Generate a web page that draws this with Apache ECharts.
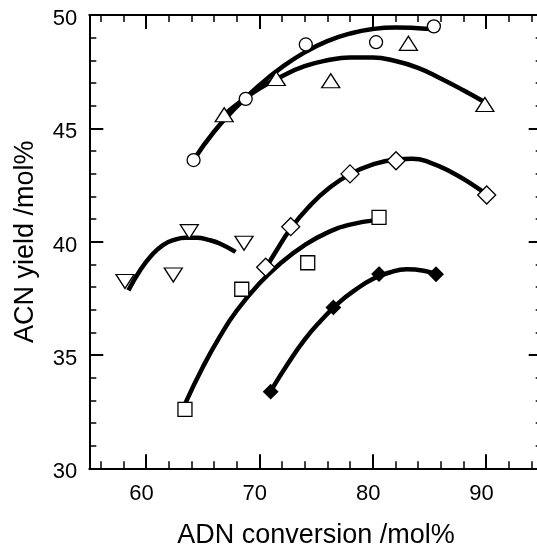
<!DOCTYPE html>
<html><head><meta charset="utf-8">
<script src="https://cdn.jsdelivr.net/npm/echarts@6/dist/echarts.min.js"></script>
<style>html,body{margin:0;padding:0;background:#fff}#c{width:537px;height:545px}</style>
</head><body><div id="c"></div>
<script>
// Tick values
const xMajorTicks = [60, 70, 80, 90];
const xMinorTicks = [56, 58, 62, 64, 66, 68, 72, 74, 76, 78, 82, 84, 86, 88, 92, 94];

// Measured points [ADN conversion, ACN yield]
const circlePts = [[64.2, 43.6], [68.8, 46.3], [74.1, 48.7], [80.3, 48.8], [85.4, 49.5]];
const triUpPts = [[66.9, 45.6], [71.5, 47.2], [76.3, 47.1], [83.15, 48.75], [89.9, 46.05]];
const diamondPts = [[70.56, 38.87], [72.77, 40.66], [78.0, 42.99], [82.06, 43.57], [90.06, 42.06]];
const squarePts = [[63.44, 32.6], [68.45, 37.9], [74.27, 39.07], [80.56, 41.07]];
const filledDiamondPts = [[71.0, 33.38], [76.53, 37.1], [80.56, 38.57], [85.59, 38.56]];
const triDownPts = [[58.15, 38.24], [62.41, 38.53], [63.82, 40.44], [68.65, 39.93]];

// Fitted curves
const circleFit = [[64.2, 43.6], [66, 44.85], [68, 45.95], [70, 46.9], [72, 47.7], [74, 48.35], [76, 48.85], [78, 49.18], [80, 49.38], [82, 49.45], [84, 49.42], [85.3, 49.38]];
const triUpFit = [[66.9, 45.6], [68, 46.05], [70, 46.75], [72, 47.3], [74, 47.74], [76, 48.0], [78, 48.12], [80, 48.12], [82, 47.97], [84, 47.67], [86, 47.2], [88, 46.68], [89.9, 46.15]];
const diamondFit = [[70.6, 38.85], [71.5, 39.6], [72.8, 40.6], [74.5, 41.6], [76, 42.3], [78, 42.98], [80, 43.4], [82, 43.62], [83.5, 43.66], [85, 43.5], [87, 43.05], [89, 42.45], [90, 42.1]];
const squareFit = [[63.5, 32.9], [65, 34.45], [66.5, 35.8], [68, 36.95], [70, 38.15], [72, 39.1], [74, 39.85], [76, 40.4], [78, 40.75], [80.3, 40.95]];
const filledDiamondFit = [[71, 33.4], [72.5, 34.6], [74, 35.68], [75.5, 36.55], [77, 37.3], [78.5, 37.88], [80, 38.35], [81.5, 38.64], [83, 38.78], [84.5, 38.72], [85.6, 38.56]];
const triDownFit = [[58.45, 37.85], [59.5, 38.75], [60.5, 39.4], [61.5, 39.85], [62.5, 40.08], [63.5, 40.17], [64.5, 40.17], [65.5, 40.08], [66.5, 39.92], [67.9, 39.55]];

const FONT = 'Liberation Sans, Arial, sans-serif';
const black = '#000';

function xAxisDef(pos, major, withLabels) {
  const a = {
    type: 'value', min: 55, max: 95, position: pos,
    axisLine: { show: major, onZero: false, lineStyle: { color: black, width: 2 } },
    axisTick: { show: true, inside: true, length: major ? 14 : 7, customValues: major ? xMajorTicks : xMinorTicks,
      lineStyle: { color: black, width: major ? 2 : 1.5 } },
    axisLabel: { show: withLabels, customValues: xMajorTicks, margin: 15, fontSize: 22, color: black, fontFamily: FONT, padding: [0, 9, 0, 0] },
    splitLine: { show: false }
  };
  if (withLabels) {
    a.name = 'ADN conversion /mol%';
    a.nameLocation = 'middle';
    a.nameGap = 54;
    a.nameTextStyle = { fontSize: 27, color: black, fontFamily: FONT };
  }
  return a;
}

function yAxisDef(pos, withLabels) {
  const a = {
    type: 'value', min: 30, max: 50, interval: 5, position: pos,
    axisLine: { show: true, onZero: false, lineStyle: { color: black, width: 2 } },
    axisTick: { show: true, inside: true, length: 14, lineStyle: { color: black, width: 2 } },
    minorTick: { show: true, splitNumber: 5, length: 7, lineStyle: { color: black, width: 1.5 } },
    axisLabel: { show: withLabels, margin: 12, fontSize: 22, color: black, fontFamily: FONT, verticalAlign: 'top', lineHeight: 8 },
    splitLine: { show: false }, minorSplitLine: { show: false }
  };
  if (withLabels) {
    a.name = 'ACN yield /mol%';
    a.nameLocation = 'middle';
    a.nameGap = 50;
    a.nameTextStyle = { fontSize: 27, color: black, fontFamily: FONT };
  }
  return a;
}

function fitLine(data) {
  return { type: 'line', data: data, smooth: 0.5, showSymbol: false, symbol: 'none', z: 2,
    lineStyle: { color: black, width: 4.5 }, silent: true };
}
function marks(data, symbol, size, filled, rotate) {
  return { type: 'scatter', data: data, symbol: symbol, symbolSize: size, symbolRotate: rotate || 0, z: 5,
    itemStyle: { color: filled ? black : '#fff', borderColor: black, borderWidth: 1.3, opacity: 1 } };
}

const chart = echarts.init(document.getElementById('c'), null, { renderer: 'canvas' });
chart.setOption({
  animation: false,
  backgroundColor: '#fff',
  grid: { left: 89.3, top: 15, width: 453.4, height: 453.3, containLabel: false, outerBoundsMode: 'none' },
  xAxis: [
    xAxisDef('bottom', true, true),
    xAxisDef('bottom', false, false),
    xAxisDef('top', true, false),
    xAxisDef('top', false, false)
  ],
  yAxis: [yAxisDef('left', true), yAxisDef('right', false)],
  series: [
    fitLine(circleFit), fitLine(triUpFit), fitLine(diamondFit),
    fitLine(squareFit), fitLine(filledDiamondFit), fitLine(triDownFit),
    marks(circlePts, 'circle', 13, false),
    marks(triUpPts, 'triangle', [18, 14], false),
    marks(diamondPts, 'diamond', 18, false),
    marks(squarePts, 'rect', 14, false),
    marks(filledDiamondPts, 'diamond', 14, true),
    marks(triDownPts, 'triangle', [18, 14], false, 180)
  ]
});
</script></body></html>
